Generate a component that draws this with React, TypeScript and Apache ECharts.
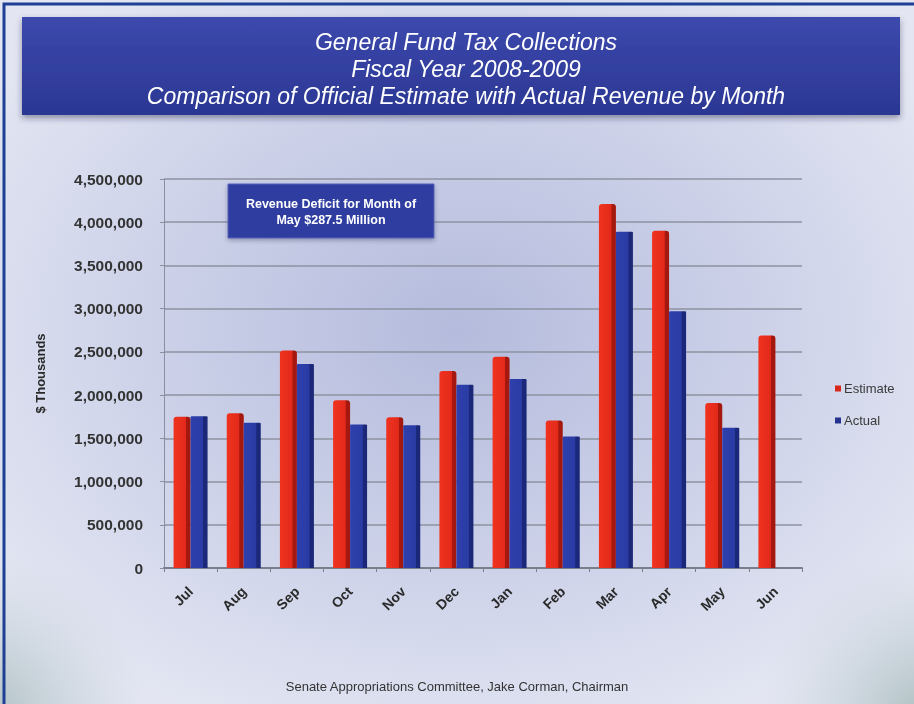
import React, { useEffect, useRef } from "react";
import * as echarts from "echarts";

// Monthly general fund collections, $ thousands
const months = ["Jul", "Aug", "Sep", "Oct", "Nov", "Dec", "Jan", "Feb", "Mar", "Apr", "May", "Jun"];
const estimate = [1750000, 1790000, 2515000, 1940000, 1745000, 2280000, 2445000, 1705000, 4210000, 3900000, 1910000, 2690000];
const actual: (number | null)[] = [1755000, 1680000, 2360000, 1660000, 1650000, 2120000, 2185000, 1520000, 3890000, 2970000, 1622500, null];

const titleLines = [
  "General Fund Tax Collections",
  "Fiscal Year 2008-2009",
  "Comparison of Official Estimate with Actual Revenue by Month",
];
const calloutLines = ["Revenue Deficit for Month of", "May $287.5 Million"];
const footnote = "Senate Appropriations Committee, Jake Corman, Chairman";

const W = 914;
const H = 704;
const FONT = "'Liberation Sans', Arial, sans-serif";

const barFill = (front: string, mid: string, side: string) =>
  new echarts.graphic.LinearGradient(0, 0, 1, 0, [
    { offset: 0, color: front },
    { offset: 0.72, color: mid },
    { offset: 0.76, color: side },
    { offset: 1, color: side },
  ]);

export default function App() {
  const ref = useRef<HTMLDivElement>(null);

  useEffect(() => {
    if (!ref.current) return;
    const chart = echarts.init(ref.current, undefined, { renderer: "svg", width: W, height: H });

    const option: echarts.EChartsOption = {
      animation: false,
      textStyle: { fontFamily: FONT },
      graphic: [
        // page background with a soft blue glow behind the plot
        {
          type: "rect",
          z: -100,
          silent: true,
          shape: { x: 0, y: 0, width: W, height: H },
          style: {
            fill: new echarts.graphic.RadialGradient(0.5, 0.47, 0.62, [
              { offset: 0, color: "#b4bbdc" },
              { offset: 0.55, color: "#cdd2e9" },
              { offset: 1, color: "#e3e6f2" },
            ]),
          },
        },
        // greyish-green shading in the lower corners
        {
          type: "circle",
          z: -99,
          silent: true,
          shape: { cx: -20, cy: 720, r: 170 },
          style: {
            fill: new echarts.graphic.RadialGradient(0.5, 0.5, 0.5, [
              { offset: 0, color: "rgba(160,182,180,0.85)" },
              { offset: 1, color: "rgba(200,210,220,0)" },
            ]),
          },
        },
        {
          type: "circle",
          z: -99,
          silent: true,
          shape: { cx: 930, cy: 720, r: 170 },
          style: {
            fill: new echarts.graphic.RadialGradient(0.5, 0.5, 0.5, [
              { offset: 0, color: "rgba(160,182,180,0.85)" },
              { offset: 1, color: "rgba(200,210,220,0)" },
            ]),
          },
        },
        // blue page frame
        {
          type: "rect",
          z: -98,
          silent: true,
          shape: { x: 4, y: 4, width: W + 20, height: H + 20 },
          style: { fill: "none", stroke: "#1f3f95", lineWidth: 3 },
        },
        // title banner
        {
          type: "rect",
          z: -90,
          silent: true,
          shape: { x: 22, y: 17, width: 878, height: 98 },
          style: {
            fill: new echarts.graphic.LinearGradient(0, 0, 0, 1, [
              { offset: 0, color: "#3c49ad" },
              { offset: 1, color: "#2b3793" },
            ]),
            shadowColor: "rgba(40,40,70,0.45)",
            shadowBlur: 6,
            shadowOffsetY: 3,
          },
        },
        ...titleLines.map((t, i) => ({
          type: "text" as const,
          z: -80,
          silent: true,
          style: {
            text: t,
            x: 466,
            y: 42 + i * 27,
            align: "center" as const,
            verticalAlign: "middle" as const,
            fill: "#ffffff",
            font: `italic 23px ${FONT}`,
          },
        })),
        // callout box
        {
          type: "rect",
          z: 50,
          silent: true,
          shape: { x: 228, y: 184, width: 206, height: 54 },
          style: {
            fill: "#2f3d9f",
            stroke: "#5864b8",
            lineWidth: 1,
            shadowColor: "rgba(40,40,70,0.35)",
            shadowBlur: 4,
            shadowOffsetY: 2,
          },
        },
        ...calloutLines.map((t, i) => ({
          type: "text" as const,
          z: 51,
          silent: true,
          style: {
            text: t,
            x: 331,
            y: 204 + i * 16,
            align: "center" as const,
            verticalAlign: "middle" as const,
            fill: "#ffffff",
            font: `bold 12.5px ${FONT}`,
          },
        })),
        // source line
        {
          type: "text",
          silent: true,
          style: {
            text: footnote,
            x: 457,
            y: 686,
            align: "center",
            verticalAlign: "middle",
            fill: "#333333",
            font: `13px ${FONT}`,
          },
        },
      ],
      grid: { left: 164, right: 112, top: 179, bottom: 136, containLabel: false },
      legend: {
        orient: "vertical",
        left: 830,
        top: 377,
        itemGap: 19,
        itemWidth: 6,
        itemHeight: 6,
        icon: "rect",
        textStyle: { fontSize: 13, color: "#3a3a3a", fontFamily: FONT, padding: [0, 0, 0, -2] },
        data: [
          { name: "Estimate", itemStyle: { color: "#d8281c" } },
          { name: "Actual", itemStyle: { color: "#24338f" } },
        ],
      },
      xAxis: {
        type: "category",
        data: months,
        axisLine: { show: true, lineStyle: { color: "#7a7f8c", width: 2 } },
        axisTick: { show: true, alignWithLabel: false, length: 4, lineStyle: { color: "#7a7f8c" } },
        axisLabel: {
          rotate: 45,
          margin: 21,
          fontSize: 14,
          fontWeight: "bold",
          color: "#2a2a2a",
          fontFamily: FONT,
        },
      },
      yAxis: {
        type: "value",
        min: 0,
        max: 4500000,
        interval: 500000,
        name: "$ Thousands",
        nameLocation: "middle",
        nameGap: 117,
        nameRotate: 90,
        nameTextStyle: { fontSize: 13, fontWeight: "bold", color: "#2a2a2a", fontFamily: FONT },
        axisLine: { show: true, lineStyle: { color: "#8a8fa0", width: 1 } },
        axisTick: { show: true, length: 4, lineStyle: { color: "#8a8fa0" } },
        axisLabel: {
          margin: 21,
          fontSize: 15.5,
          fontWeight: "bold",
          color: "#333",
          fontFamily: FONT,
          formatter: (v: number) => v.toLocaleString("en-US"),
        },
        splitLine: { show: true, lineStyle: { color: "#8e92a0", width: 1.5 } },
      },
      series: [
        {
          name: "Estimate",
          type: "bar",
          data: estimate,
          barWidth: 17,
          barGap: "0%",
          itemStyle: {
            color: barFill("#f0331f", "#e2291a", "#a5180f"),
            borderRadius: [3, 3, 0, 0],
          },
        },
        {
          name: "Actual",
          type: "bar",
          data: actual,
          barWidth: 17,
          barGap: "0%",
          itemStyle: {
            color: barFill("#2e40ad", "#2a3ba4", "#1b2778"),
            borderRadius: [1, 1, 0, 0],
          },
        },
      ],
    };

    chart.setOption(option);
    return () => chart.dispose();
  }, []);

  return (
    <div
      ref={ref}
      style={{ position: "fixed", left: 0, top: 0, width: W, height: H, overflow: "hidden" }}
    />
  );
}
